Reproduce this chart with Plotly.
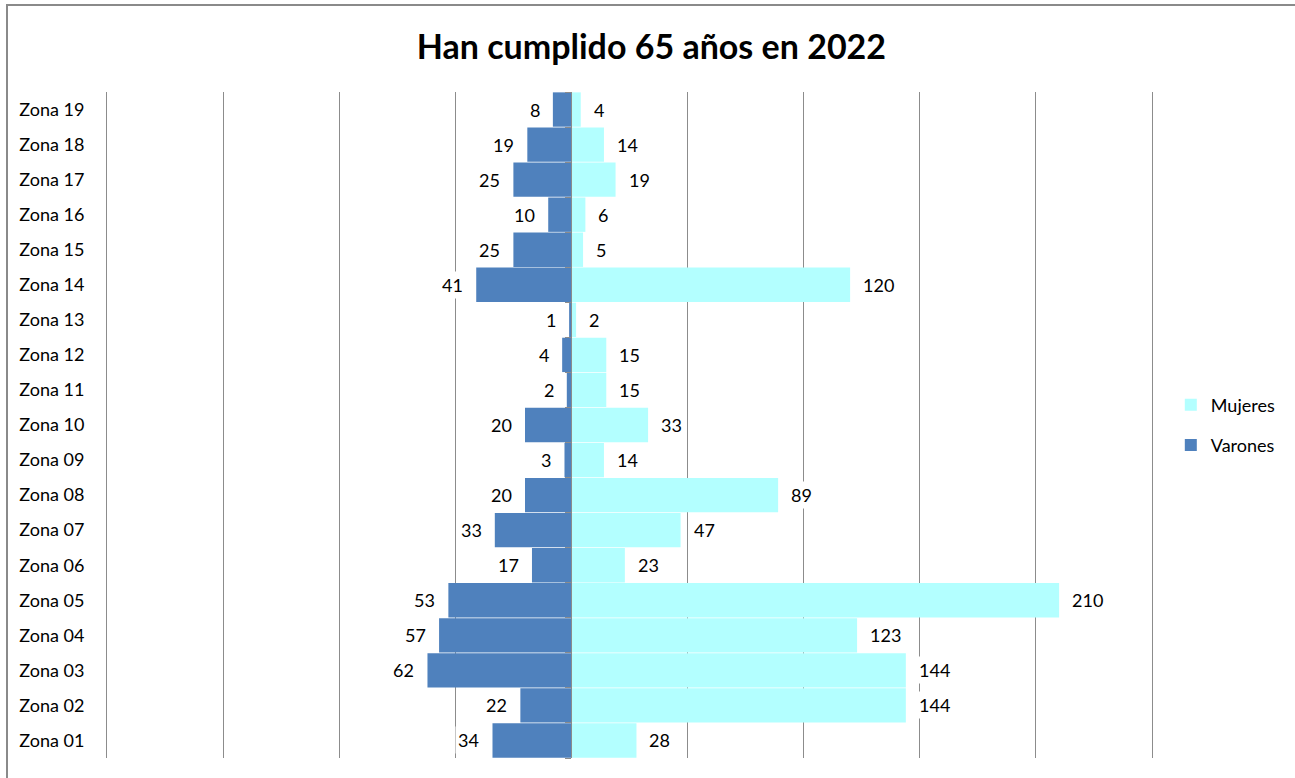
import plotly.graph_objects as go

# Zones, bottom to top
zonas = [f"Zona {i:02d}" for i in range(1, 20)]
mujeres = [28, 144, 144, 123, 210, 23, 47, 89, 14, 33, 15, 15, 2, 120, 5, 6, 19, 14, 4]
varones = [34, 22, 62, 57, 53, 17, 33, 20, 3, 20, 2, 4, 1, 41, 25, 10, 25, 19, 8]

color_muj = "#B3FFFF"
color_var = "#4F81BD"
grid_color = "#8C8C8C"
font_family = "Lato, 'Open Sans', sans-serif"

x_min, x_max = -200, 250

fig = go.Figure()
fig.add_trace(go.Bar(
    y=zonas, x=mujeres, orientation="h", name="Mujeres", legendgroup="m",
    marker=dict(color=color_muj, line=dict(width=0)),
))
fig.add_trace(go.Bar(
    y=zonas, x=[-v for v in varones], orientation="h", name="Varones", legendgroup="v",
    marker=dict(color=color_var, line=dict(width=0)),
    customdata=varones, hovertemplate="%{y}: %{customdata}<extra>Varones</extra>",
))
# invisible helper trace so the centre category axis gets its ticks
fig.add_trace(go.Scatter(
    y=zonas, x=[0] * len(zonas), yaxis="y2", mode="markers",
    marker=dict(opacity=0), showlegend=False, hoverinfo="skip",
))

label_font = dict(size=18, color="#000", family=font_family)
annotations = []
for z, m, v in zip(zonas, mujeres, varones):
    annotations.append(dict(
        x=m, y=z, text=str(m), showarrow=False, xanchor="left", xshift=10,
        bgcolor="white", borderpad=2, font=label_font,
    ))
    annotations.append(dict(
        x=-v, y=z, text=str(v), showarrow=False, xanchor="right", xshift=-10,
        bgcolor="white", borderpad=2, font=label_font,
    ))

pos_zero = (0 - x_min) / (x_max - x_min)

fig.update_layout(
    width=1295, height=778,
    margin=dict(l=107, r=143, t=92, b=20, autoexpand=False),
    paper_bgcolor="white", plot_bgcolor="white",
    barmode="relative", bargap=0.02,
    font=dict(family=font_family, size=18, color="#000"),
    title=dict(text="<b>Han cumplido 65 años en 2022</b>", x=0.503, xanchor="center",
               y=0.94, yanchor="middle", font=dict(size=34, color="#000", family=font_family)),
    xaxis=dict(range=[x_min, x_max], dtick=50, showticklabels=False, showgrid=True,
               gridcolor=grid_color, gridwidth=1, zeroline=False, showline=False, ticks=""),
    yaxis=dict(type="category", categoryorder="array", categoryarray=zonas,
               showgrid=False, ticks="", showline=True, mirror=True, linecolor=grid_color,
               linewidth=1, ticklabelstandoff=18, tickfont=label_font),
    yaxis2=dict(type="category", categoryorder="array", categoryarray=zonas,
                overlaying="y", anchor="free", position=pos_zero, side="left",
                showticklabels=False, showgrid=False, showline=True, linecolor=grid_color,
                linewidth=1, ticks="outside", ticklen=6, tickcolor=grid_color,
                tickson="boundaries", layer="above traces",
                range=[-0.5, len(zonas) - 0.5]),
    legend=dict(x=1.018, y=0.5, xanchor="left", yanchor="middle", traceorder="grouped",
                font=label_font, itemwidth=30, tracegroupgap=14),
    annotations=annotations,
    showlegend=True,
    shapes=[dict(type="rect", xref="paper", yref="paper",
                 x0=(7 - 107) / 1045, x1=(1300 - 107) / 1045,
                 y0=-(20 + 10) / 666, y1=1 + (92 - 5) / 666,
                 line=dict(color="#8A8A8A", width=2), layer="below")],
)

fig.write_html("out.html")
